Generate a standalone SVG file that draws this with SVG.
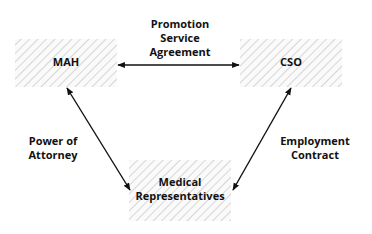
<svg xmlns="http://www.w3.org/2000/svg" width="372" height="234" viewBox="0 0 372 234">
<style>
text{font-family:"Open Sans","Noto Sans","Liberation Sans",sans-serif;font-weight:bold;font-size:11px;fill:#111;text-anchor:middle}
.box{fill:url(#hatch);stroke:none}
.conn{stroke:#111;stroke-width:1.4;fill:none;marker-start:url(#ah);marker-end:url(#ah)}
</style>
<defs>
<pattern id="hatch" patternUnits="userSpaceOnUse" width="6" height="6" patternTransform="rotate(45)">
<rect width="6" height="6" fill="#fafafa"/>
<line x1="0" y1="0" x2="0" y2="6" stroke="#d6d6d6" stroke-width="2"/>
</pattern>
<marker id="ah" viewBox="0 0 10 10" refX="9" refY="5" markerWidth="5.5" markerHeight="5.5" orient="auto-start-reverse" markerUnits="strokeWidth">
<path d="M0,1 L10,5 L0,9 z" fill="#111"/>
</marker>
</defs>
<g id="mah"><rect class="box" x="15" y="39" width="102" height="48"/><text x="66" y="66">MAH</text></g>
<g id="cso"><rect class="box" x="240" y="39" width="102" height="48"/><text x="291" y="66">CSO</text></g>
<g id="medrep"><rect class="box" x="129" y="160" width="102" height="61"/><text x="180" y="186">Medical</text><text x="180" y="200">Representatives</text></g>
<g id="connectors">
<line class="conn" x1="118" y1="65" x2="239" y2="65"/>
<line class="conn" x1="67" y1="88" x2="130" y2="190"/>
<line class="conn" x1="291" y1="88" x2="233" y2="190"/>
</g>
<g id="labels">
<text x="180" y="28">Promotion</text><text x="180" y="42">Service</text><text x="180" y="56">Agreement</text>
<text x="53" y="145">Power of</text><text x="53" y="159">Attorney</text>
<text x="315" y="145">Employment</text><text x="315" y="159">Contract</text>
</g>
</svg>
